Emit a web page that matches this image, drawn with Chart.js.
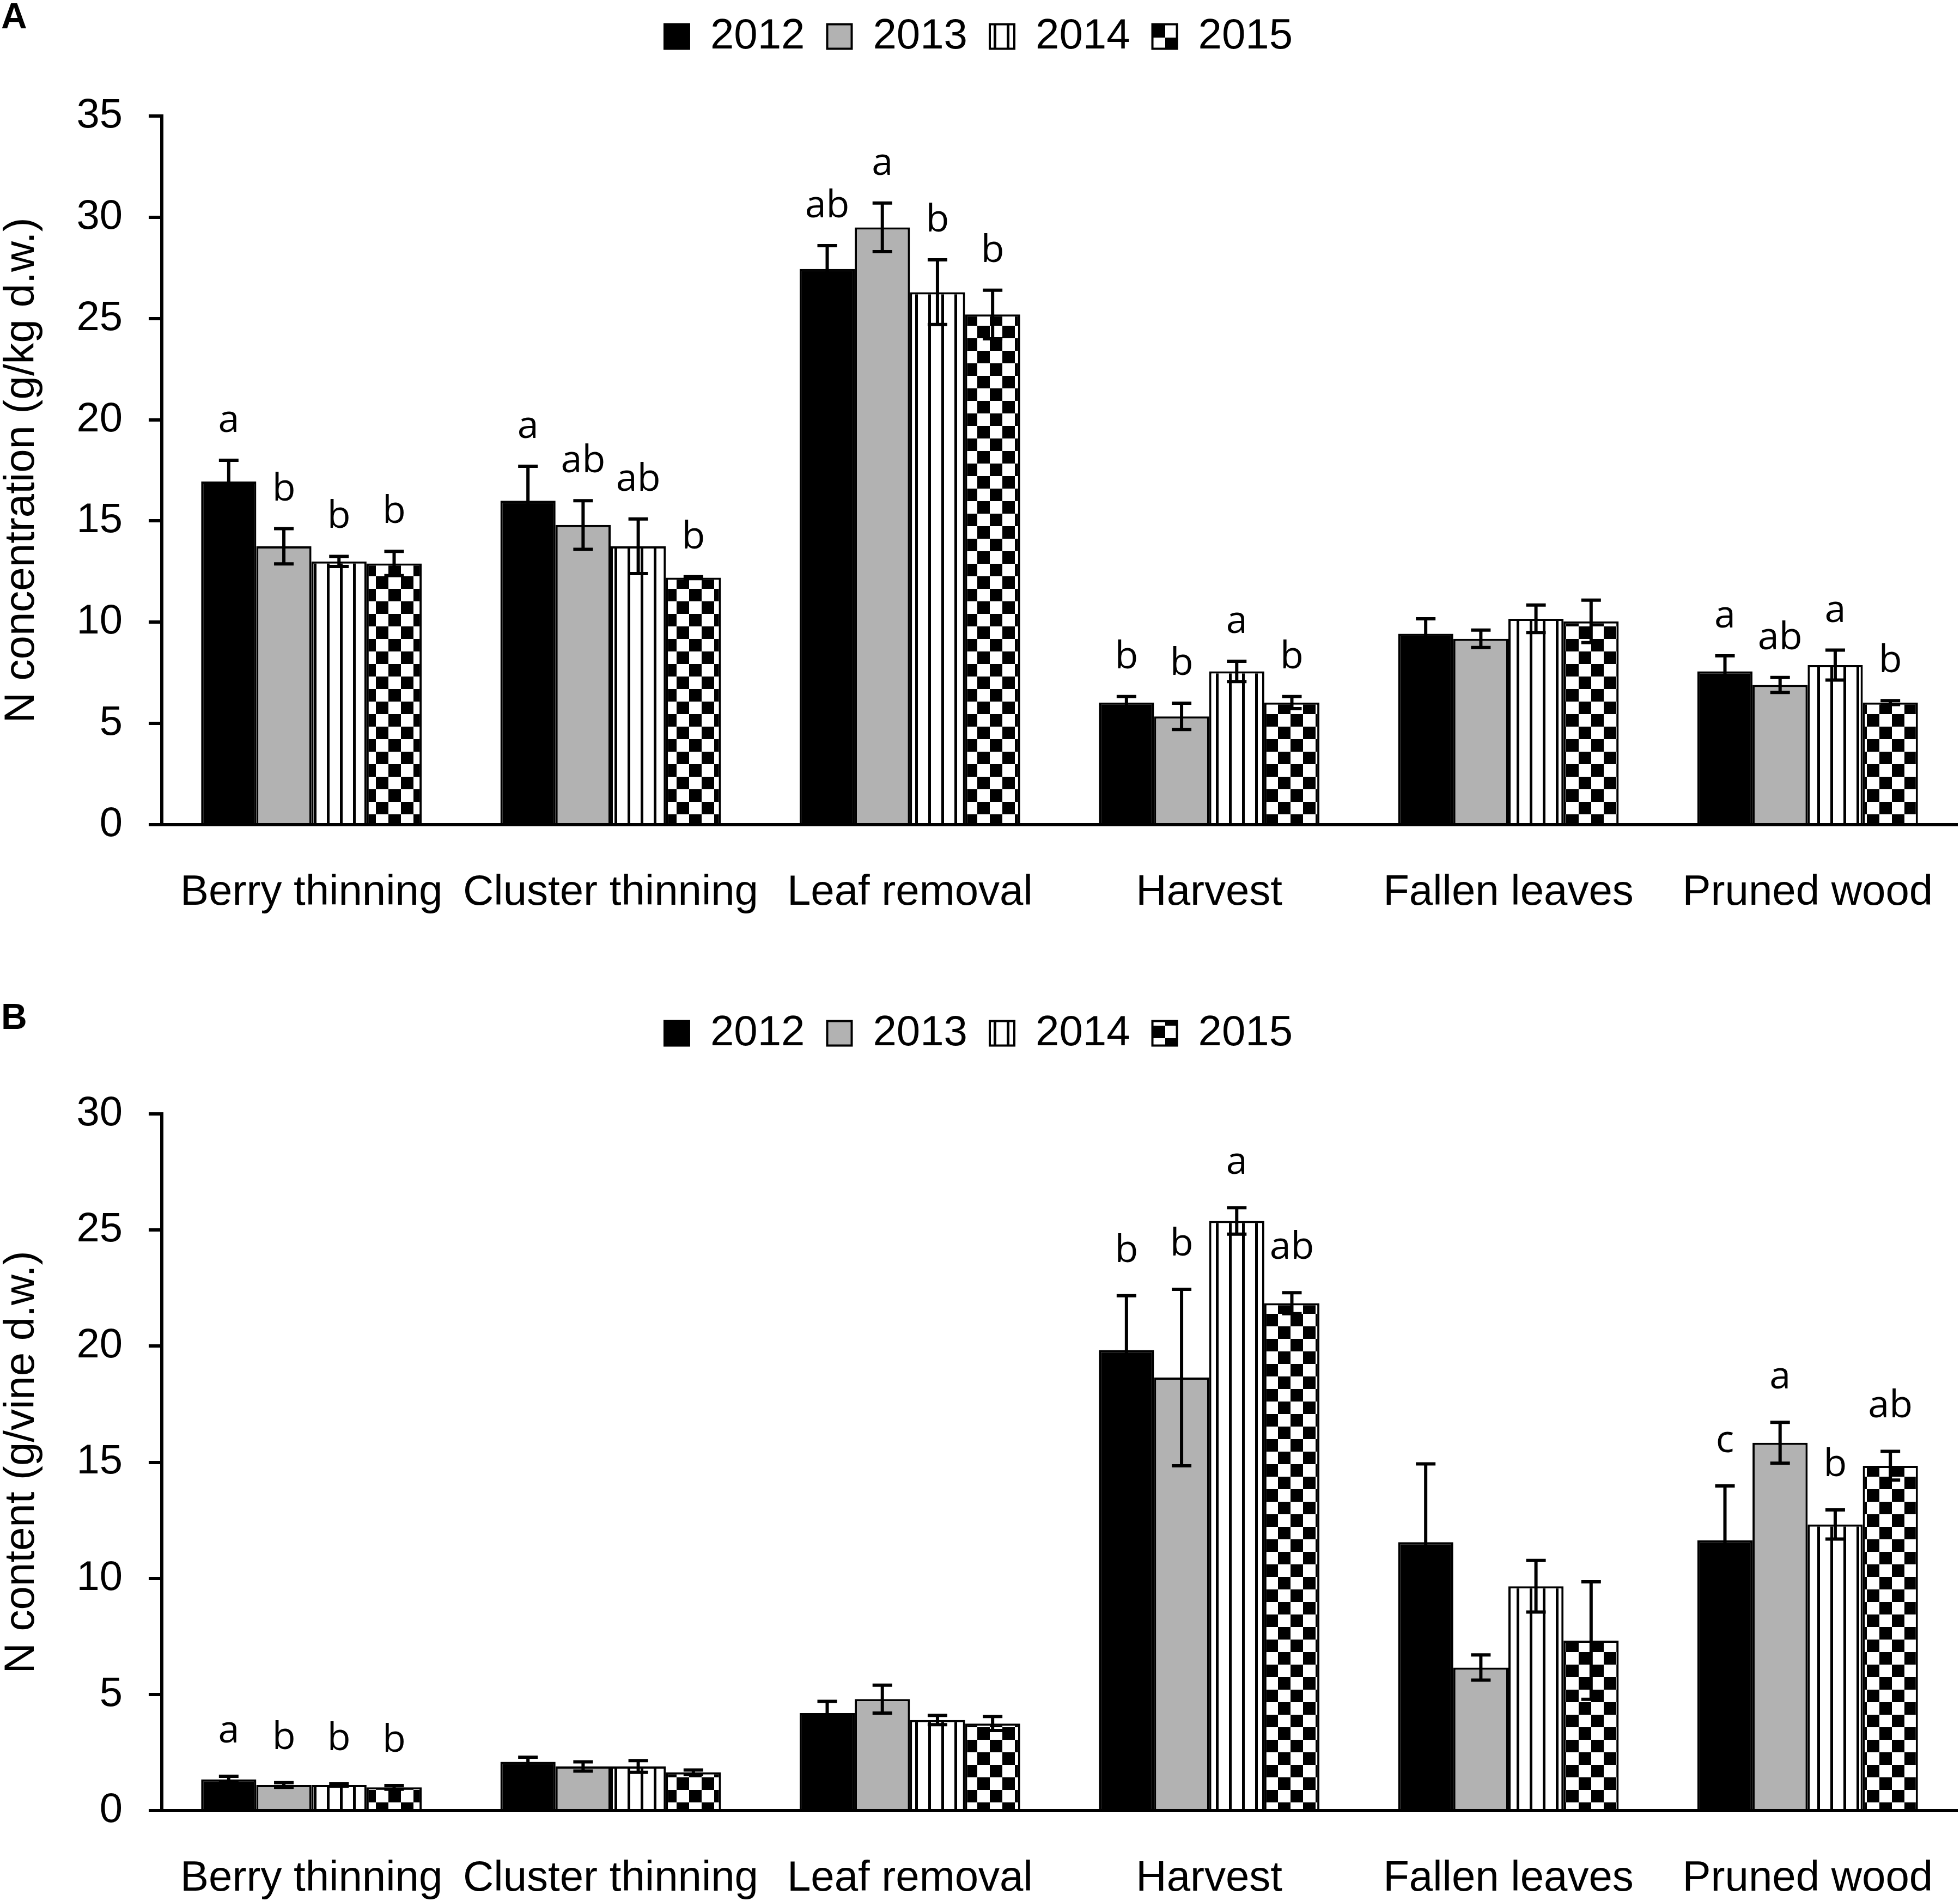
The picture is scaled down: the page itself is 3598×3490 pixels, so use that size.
<!DOCTYPE html>
<html><head><meta charset="utf-8">
<script src="https://cdn.jsdelivr.net/npm/chart.js@4"></script>
<style>
html,body{margin:0;padding:0;background:#fff;}
#wrap{position:relative;width:3598px;height:3490px;overflow:hidden;}
.panel{position:absolute;left:0;width:3598px;height:1745px;}
.tag{position:absolute;left:2px;font:bold 66px "Liberation Sans",Arial,sans-serif;line-height:1;color:#000;}
</style></head><body>
<div id="wrap">
  <div class="panel" style="top:0"><canvas id="cA" width="3598" height="1745"></canvas></div>
  <div class="panel" style="top:1745px"><canvas id="cB" width="3598" height="1745"></canvas></div>
  <div class="tag" style="top:-4px">A</div>
  <div class="tag" style="top:1833px">B</div>
</div>
<script>
// ---------- data ----------
const categories = ['Berry thinning', 'Cluster thinning', 'Leaf removal', 'Harvest', 'Fallen leaves', 'Pruned wood'];
const years = ['2012', '2013', '2014', '2015'];

// Panel A: N concentration (g/kg d.w.)
const concA2012 = [16.95, 16.0, 27.45, 6.03, 9.43, 7.57];
const concA2013 = [13.75, 14.8, 29.5, 5.35, 9.18, 6.9];
const concA2014 = [13.0, 13.75, 26.3, 7.57, 10.17, 7.88];
const concA2015 = [12.9, 12.2, 25.2, 6.03, 10.04, 6.03];
const errA2012 = [1.05, 1.7, 1.15, 0.3, 0.74, 0.77];
const errA2013 = [0.87, 1.2, 1.2, 0.65, 0.43, 0.37];
const errA2014 = [0.25, 1.35, 1.6, 0.5, 0.68, 0.74];
const errA2015 = [0.6, 0.05, 1.2, 0.3, 1.05, 0.1];
const lettersA = [
  ['a', 'b', 'b', 'b'],
  ['a', 'ab', 'ab', 'b'],
  ['ab', 'a', 'b', 'b'],
  ['b', 'b', 'a', 'b'],
  ['', '', '', ''],
  ['a', 'ab', 'a', 'b']
];
const ticksA = [0, 5, 10, 15, 20, 25, 30, 35];
const titleA = 'N concentration (g/kg d.w.)';

// Panel B: N content (g/vine d.w.)
const contB2012 = [1.34, 2.1, 4.2, 19.83, 11.56, 11.64];
const contB2013 = [1.1, 1.9, 4.8, 18.65, 6.16, 15.84];
const contB2014 = [1.1, 1.9, 3.9, 25.39, 9.66, 12.32];
const contB2015 = [1.0, 1.65, 3.75, 21.85, 7.32, 14.85];
const errB2012 = [0.14, 0.2, 0.5, 2.34, 3.37, 2.34];
const errB2013 = [0.1, 0.2, 0.6, 3.8, 0.54, 0.88];
const errB2014 = [0.05, 0.25, 0.2, 0.57, 1.11, 0.63];
const errB2015 = [0.08, 0.1, 0.3, 0.45, 2.53, 0.62];
const lettersB = [
  ['a', 'b', 'b', 'b'],
  ['', '', '', ''],
  ['', '', '', ''],
  ['b', 'b', 'a', 'ab'],
  ['', '', '', ''],
  ['c', 'a', 'b', 'ab']
];
const ticksB = [0, 5, 10, 15, 20, 25, 30];
const titleB = 'N content (g/vine d.w.)';

// ---------- styles ----------
const FONT = '"Liberation Sans", Arial, sans-serif';
Chart.defaults.font.family = FONT;
Chart.defaults.color = '#000';

function stripePattern() {
  const c = document.createElement('canvas'); c.width = 24; c.height = 24;
  const x = c.getContext('2d');
  x.fillStyle = '#fff'; x.fillRect(0, 0, 24, 24);
  x.fillStyle = '#000'; x.fillRect(0, 0, 5, 24);
  return x.createPattern(c, 'repeat');
}
function checkerPattern() {
  const s = 23;
  const c = document.createElement('canvas'); c.width = 2 * s; c.height = 2 * s;
  const x = c.getContext('2d');
  x.fillStyle = '#fff'; x.fillRect(0, 0, 2 * s, 2 * s);
  x.fillStyle = '#000'; x.fillRect(0, 0, s, s); x.fillRect(s, s, s, s);
  return x.createPattern(c, 'repeat');
}
const fills = ['#000000', '#b2b2b2', stripePattern(), checkerPattern()];

const errorBarPlugin = {
  id: 'errorBars',
  afterDatasetsDraw(chart, args, opts) {
    const ctx = chart.ctx, ys = chart.scales.y;
    chart.data.datasets.forEach((ds, di) => {
      const meta = chart.getDatasetMeta(di);
      meta.data.forEach((bar, i) => {
        const v = ds.data[i], e = ds.errors[i];
        const yt = ys.getPixelForValue(v + e), yb = ys.getPixelForValue(v - e);
        const cap = opts.capHalf;
        ctx.save();
        ctx.strokeStyle = '#000';
        ctx.lineWidth = opts.lineWidth;
        ctx.lineCap = 'butt';
        ctx.beginPath();
        ctx.moveTo(bar.x, yt); ctx.lineTo(bar.x, yb);
        ctx.moveTo(bar.x - cap, yt); ctx.lineTo(bar.x + cap, yt);
        ctx.moveTo(bar.x - cap, yb); ctx.lineTo(bar.x + cap, yb);
        ctx.stroke();
        const letter = ds.letters[i];
        if (letter) {
          ctx.fillStyle = '#000';
          ctx.font = opts.letterFont;
          ctx.textAlign = 'center';
          ctx.textBaseline = 'alphabetic';
          ctx.fillText(letter, bar.x, yt - opts.letterGap);
        }
        ctx.restore();
      });
    });
  }
};

const legendSpacer = {
  id: 'legendSpacer',
  beforeInit(chart) {
    const fit = chart.legend.fit;
    chart.legend.fit = function () {
      fit.call(this);
      this.height += (chart.$extra || 0);
    };
  }
};

function build(id, values, errors, letters, ticks, title, letterGap, bottomH) {
  const datasets = years.map((y, yi) => ({
    label: y,
    data: values[yi],
    errors: errors[yi],
    letters: letters.map(row => row[yi]),
    backgroundColor: fills[yi],
    borderColor: '#000',
    borderWidth: 4,
    borderSkipped: 'start'
  }));
  return new Chart(document.getElementById(id), {
    type: 'bar',
    data: { labels: categories, datasets },
    plugins: [errorBarPlugin, legendSpacer],
    options: {
      responsive: false,
      animation: false,
      devicePixelRatio: 1,
      layout: { padding: { top: 0, right: 5, bottom: 0, left: 0 }, autoPadding: false },
      datasets: { bar: { categoryPercentage: 0.737, barPercentage: 1 } },
      plugins: {
        tooltip: { enabled: false },
        legend: {
          position: 'top',
          labels: {
            font: { size: 78, family: FONT },
            color: '#000',
            boxWidth: 45,
            boxHeight: 45,
            padding: 41
          }
        },
        errorBars: { lineWidth: 6, capHalf: 18, letterGap: letterGap, letterFont: '70px "Open Sans", sans-serif' }
      },
      scales: {
        x: {
          grid: { display: false, drawTicks: false },
          border: { display: true, color: '#000', width: 6 },
          ticks: { font: { size: 78, family: FONT }, color: '#000', padding: 79, maxRotation: 0, autoSkip: false },
          afterFit(scale) { scale.height = bottomH; scale.paddingLeft = 0; scale.paddingRight = 0; }
        },
        y: {
          min: ticks[0],
          max: ticks[ticks.length - 1],
          afterBuildTicks(scale) { scale.ticks = ticks.map(v => ({ value: v })); },
          grid: { drawOnChartArea: false, color: '#000', lineWidth: 6, tickLength: 24, drawTicks: true },
          border: { display: true, color: '#000', width: 6 },
          ticks: { font: { size: 76, family: FONT }, color: '#000', padding: 48 },
          title: { display: true, text: title, font: { size: 78, family: FONT, lineHeight: 1.05 }, color: '#000', padding: 0 },
          afterFit(scale) { scale.width = 297; }
        }
      }
    }
  });
}

function place(chart, legendCenter, top) {
  for (let k = 0; k < 2; k++) {
    const hb = chart.legend.legendHitBoxes[0];
    const cur = hb.top + hb.height / 2;
    const dPad = legendCenter - cur;
    chart.options.layout.padding.top += dPad;
    chart.$extra = (chart.$extra || 0) + (top - chart.chartArea.top) - dPad;
    chart.update('none');
  }
}

const chartA = build('cA',
  [concA2012, concA2013, concA2014, concA2015],
  [errA2012, errA2013, errA2014, errA2015],
  lettersA, ticksA, titleA, 52, 1745 - 1514);
place(chartA, 67, 213);

const chartB = build('cB',
  [contB2012, contB2013, contB2014, contB2015],
  [errB2012, errB2013, errB2014, errB2015],
  lettersB, ticksB, titleB, 62, 1745 - 1579);
place(chartB, 152, 300);
</script>
</body></html>
